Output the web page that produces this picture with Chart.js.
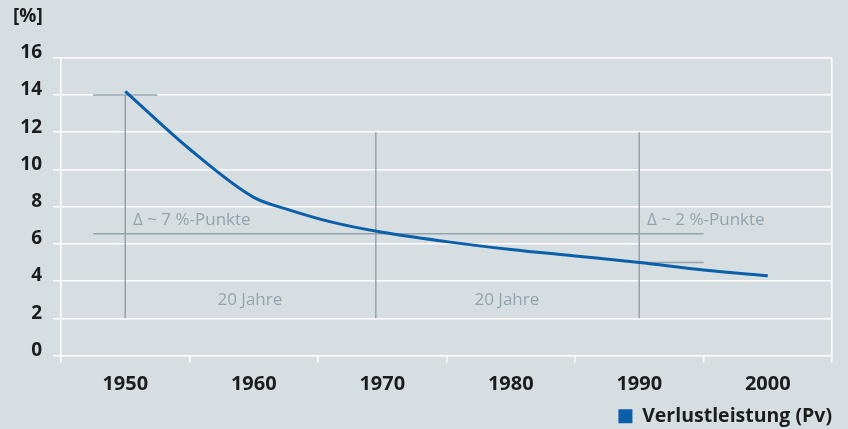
<!DOCTYPE html>
<html>
<head>
<meta charset="utf-8">
<script src="https://cdn.jsdelivr.net/npm/chart.js@4/dist/chart.umd.min.js"></script>
<style>
html,body{margin:0;padding:0;background:#d7dee2;}
#wrap{width:848px;height:429px;position:relative;}
</style>
</head>
<body>
<div id="wrap"><canvas id="c" width="848" height="429"></canvas></div>
<script>
// ---- data ----
const years  = [1950, 1955, 1960, 1962.5, 1966, 1970, 1975, 1980, 1985, 1990, 1995, 2000];
const values = [14.2, 11.1, 8.5, 7.88, 7.18, 6.62, 6.12, 5.7, 5.35, 5.0, 4.6, 4.28];
const seriesName = 'Verlustleistung (Pv)';
const unitLabel = '[%]';
const yTicks = [0, 2, 4, 6, 8, 10, 12, 14, 16];
const xLabelYears = [1950, 1960, 1970, 1980, 1990, 2000];

// reference annotation lines: [x1, y1, x2, y2] in data units
const refLines = [
  [1947.5, 14, 1952.5, 14],
  [1950, 14, 1950, 2],
  [1969.5, 12, 1969.5, 2],
  [1990, 12, 1990, 2],
  [1947.5, 6.55, 1995, 6.55],
  [1990, 5.0, 1995, 5.0]
];
// annotation texts: [x, y, text, align]
const refTexts = [
  [1950.6, 7.25, 'Δ ~ 7 %-Punkte', 'left'],
  [1990.6, 7.25, 'Δ ~ 2 %-Punkte', 'left'],
  [1959.7, 3.0, '20 Jahre', 'center'],
  [1979.7, 3.0, '20 Jahre', 'center']
];

const BLUE = '#0b5ea8';
const GREY = '#93a3ac';
const DARK = '#1c1c1c';
const FONT = "'Open Sans', 'Noto Sans', sans-serif";

const annot = {
  id: 'annot',
  beforeDatasetsDraw(chart) {
    const {ctx, scales: {x, y}} = chart;
    ctx.save();
    ctx.strokeStyle = GREY;
    ctx.lineWidth = 1.5;
    refLines.forEach(([x1, y1, x2, y2]) => {
      ctx.beginPath();
      ctx.moveTo(x.getPixelForValue(x1), y.getPixelForValue(y1));
      ctx.lineTo(x.getPixelForValue(x2), y.getPixelForValue(y2));
      ctx.stroke();
    });
    ctx.fillStyle = GREY;
    ctx.font = '17px ' + FONT;
    ctx.textBaseline = 'middle';
    refTexts.forEach(([tx, ty, t, al]) => {
      ctx.textAlign = al;
      ctx.fillText(t, x.getPixelForValue(tx), y.getPixelForValue(ty));
    });
    ctx.restore();
  }
};

new Chart(document.getElementById('c'), {
  type: 'line',
  data: {
    datasets: [{
      label: seriesName,
      data: years.map((yr, i) => ({x: yr, y: values[i]})),
      borderColor: BLUE,
      backgroundColor: BLUE,
      borderWidth: 3,
      pointRadius: 0,
      cubicInterpolationMode: 'monotone',
      fill: false
    }]
  },
  options: {
    responsive: false,
    animation: false,
    layout: {padding: {left: 13, right: 16, top: 5, bottom: -7}},
    plugins: {
      title: {
        display: true,
        text: unitLabel,
        align: 'start',
        color: DARK,
        font: {family: FONT, size: 19, weight: 'bold'},
        padding: {top: 0, bottom: 30}
      },
      legend: {
        display: true,
        position: 'bottom',
        align: 'end',
        labels: {
          color: DARK,
          font: {family: FONT, size: 19.5, weight: 'bold', lineHeight: 1},
          boxWidth: 14,
          boxHeight: 14,
          padding: 0,
          generateLabels: (chart) => chart.data.datasets.map((ds, i) => ({
            text: ds.label, fillStyle: BLUE, strokeStyle: BLUE, lineWidth: 0,
            hidden: false, datasetIndex: i, fontColor: DARK
          }))
        }
      },
      tooltip: {enabled: false}
    },
    scales: {
      x: {
        type: 'linear',
        min: 1945,
        max: 2005,
        border: {display: false},
        afterBuildTicks: (s) => { s.ticks = []; for (let v = 1945; v <= 2005; v += 5) s.ticks.push({value: v}); },
        ticks: {
          color: DARK,
          font: {family: FONT, size: 20, weight: 'bold', lineHeight: 2.4},
          padding: -2,
          maxRotation: 0,
          autoSkip: false,
          callback: (v) => xLabelYears.includes(v) ? String(v) : ''
        },
        grid: {
          lineWidth: 1.5,
          tickLength: 7,
          color: (c) => (c.tick && (c.tick.value === 1945 || c.tick.value === 2005)) ? '#ffffff' : 'rgba(0,0,0,0)',
          tickColor: (c) => (c.tick && c.tick.value % 10 === 5) ? '#ffffff' : 'rgba(0,0,0,0)'
        }
      },
      y: {
        min: 0,
        max: 16,
        border: {display: false},
        afterBuildTicks: (s) => { s.ticks = yTicks.map(v => ({value: v})); },
        afterFit: (s) => { s.width = 48; },
        ticks: {
          color: DARK,
          font: {family: FONT, size: 19, weight: 'bold'},
          padding: 11,
          labelOffset: -5
        },
        grid: {
          color: '#ffffff',
          lineWidth: 1.5,
          tickLength: 8
        }
      }
    }
  },
  plugins: [annot]
});
</script>
</body>
</html>
